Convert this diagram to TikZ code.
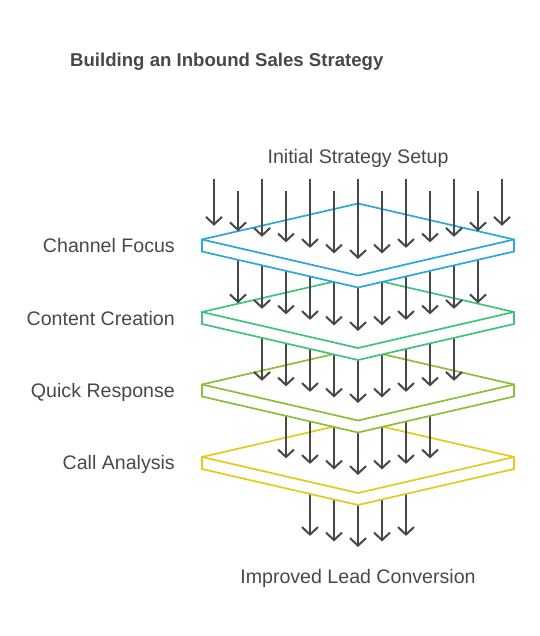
\documentclass[tikz,border=0pt]{standalone}
\usepackage{fontspec}
\setmainfont{Liberation Sans}
\usetikzlibrary{arrows.meta}
\definecolor{plateblue}{HTML}{2BA8DB}
\definecolor{plategreen}{HTML}{3FC37F}
\definecolor{plateolive}{HTML}{8EBD38}
\definecolor{plateyellow}{HTML}{E2CB1A}
\definecolor{arrowgray}{HTML}{474747}
\definecolor{textgray}{HTML}{484848}
\tikzset{flow/.style={draw=arrowgray,line width=2pt,-{Straight Barb[length=7.5pt,width=16pt,line width=2pt]}},}
\tikzset{plate/.style={line width=1.7pt,fill=white,line join=miter},}
\tikzset{layertext/.style={text=textgray,font=\fontsize{19.6}{19.6}\selectfont,inner sep=0pt},}
\tikzset{titletext/.style={text=textgray,font=\bfseries\fontsize{18.6}{18.6}\selectfont,inner sep=0pt},}

% one slab: #1 colour, #2 y of its left corner
\newcommand{\layerplate}[2]{
	\draw[plate,draw=#1] (202,#2) -- (358,#2-36) -- (514,#2) -- (514,#2+12) -- (358,#2+48) -- (202,#2+12) -- cycle;
	\draw[plate,draw=#1,fill=none] (202,#2) -- (358,#2+36) -- (514,#2);
}
% a row of arrows: #1 half count, #2 start y, #3 tip y in the middle
\newcommand{\arrowrow}[3]{
	\foreach \j in {-#1,...,#1} {
		\draw[flow] ({358+24*\j},#2) -- ({358+24*\j},{#3-5.54*abs(\j)});
	}
}

\begin{document}
\begin{tikzpicture}[x=1pt,y=-1pt]
	\useasboundingbox (0,0) rectangle (539,636);
	\node[titletext,anchor=base west] (title) at (70,67) {Building an Inbound Sales Strategy};
	\node[layertext,anchor=base] (setup) at (358,164) {Initial Strategy Setup};
	\node[layertext,anchor=base east] (channel) at (175,252) {Channel Focus};
	\node[layertext,anchor=base east] (content) at (175,325) {Content Creation};
	\node[layertext,anchor=base east] (quick) at (175,397) {Quick Response};
	\node[layertext,anchor=base east] (call) at (175,469) {Call Analysis};
	\node[layertext,anchor=base] (lead) at (358,583) {Improved Lead Conversion};
	
	% from the bottom up, each slab hides the start of the row below it
	\arrowrow{2}{463}{547}
	\layerplate{plateyellow}{457}
	\arrowrow{3}{390.5}{475}
	\layerplate{plateolive}{384.5}
	\arrowrow{4}{318}{403}
	\layerplate{plategreen}{312}
	\arrowrow{5}{245.5}{331}
	\layerplate{plateblue}{239.5}
	% top row, long and short in turn
	\foreach \j in {-6,...,6} {
		\pgfmathsetmacro{\ys}{mod(abs(\j),2)==1 ? 191 : 179}
		\draw[flow] ({358+24*\j},\ys) -- ({358+24*\j},{259-5.54*abs(\j)});
	}
\end{tikzpicture}
\end{document}
